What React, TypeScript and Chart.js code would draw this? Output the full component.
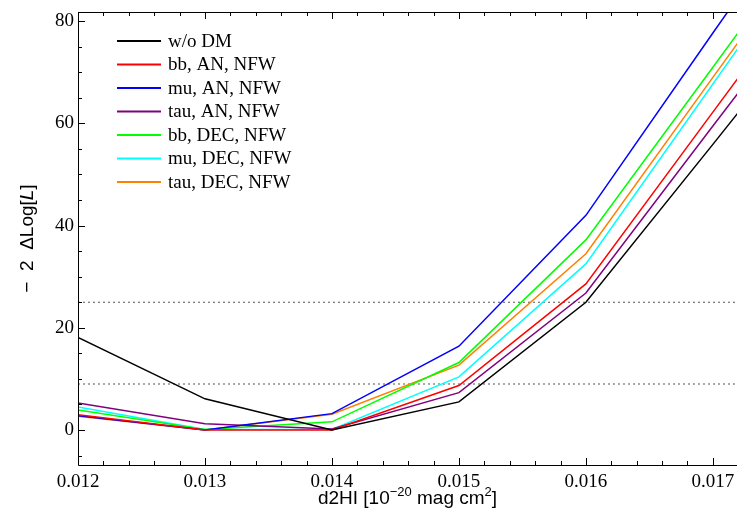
import React, { useEffect, useRef } from "react";
import { Chart, registerables } from "chart.js";

Chart.register(...registerables);

const xValues = [0.012, 0.013, 0.014, 0.015, 0.016, 0.017, 0.018];
const woDM = [18.1, 6.1, 0, 5.5, 25.0, 55.9, 87];
const bbAN = [3.0, 0, 0, 8.7, 28.6, 62.2, 95.8];
const muAN = [2.8, 0, 3.2, 16.4, 42.0, 77.7, 113];
const tauAN = [5.3, 1.2, 0.2, 7.3, 26.8, 59.5, 92];
const bbDEC = [3.9, 0.1, 1.6, 13.2, 37.2, 71, 105];
const muDEC = [4.5, 0.1, 0.1, 10.4, 32.5, 67.7, 103];
const tauDEC = [2.7, 0, 3.1, 12.7, 34.5, 69, 103.5];
const thresholds = [9, 25];

const seriesLabels = [
  "w/o DM",
  "bb, AN, NFW",
  "mu, AN, NFW",
  "tau, AN, NFW",
  "bb, DEC, NFW",
  "mu, DEC, NFW",
  "tau, DEC, NFW",
];
const seriesColors = ["#000000", "#ff0000", "#0000ff", "#800080", "#00ff00", "#00ffff", "#ff8000"];
const seriesValues = [woDM, bbAN, muAN, tauAN, bbDEC, muDEC, tauDEC];

// axis titles as styled runs: [text, style] where style: n = normal, s = superscript, i = italic
const xTitleRuns: [string, string][] = [
  ["d2HI [10", "n"],
  ["−20", "s"],
  [" mag cm", "n"],
  ["2", "s"],
  ["]", "n"],
];
const yTitleRuns: [string, string][] = [
  ["−  2  ΔLog[", "n"],
  ["L", "i"],
  ["]", "n"],
];

const X_MIN = 0.012;
const X_MAX = 0.01719;
const Y_MIN = -6.85;
const Y_MAX = 81.8;

const SANS = '"Liberation Sans", Arial, sans-serif';
const SERIF = '"Liberation Serif", "Times New Roman", serif';

const isMajorX = (v: number) => Math.abs(v * 1000 - Math.round(v * 1000)) < 1e-6;
const isMajorY = (v: number) => Math.abs(v / 20 - Math.round(v / 20)) < 1e-6;

function runFont(style: string) {
  if (style === "s") return `13px ${SANS}`;
  if (style === "i") return `italic 19px ${SANS}`;
  return `19px ${SANS}`;
}

function drawRuns(ctx: CanvasRenderingContext2D, runs: [string, string][], cx: number, cy: number) {
  let total = 0;
  for (const [t, s] of runs) {
    ctx.font = runFont(s);
    total += ctx.measureText(t).width;
  }
  let x = cx - total / 2;
  ctx.textBaseline = "alphabetic";
  ctx.textAlign = "left";
  for (const [t, s] of runs) {
    ctx.font = runFont(s);
    ctx.fillText(t, x, s === "s" ? cy - 8 : cy);
    x += ctx.measureText(t).width;
  }
}

const framePlugin = {
  id: "frameTicks",
  afterDatasetsDraw(chart: any) {
    const { ctx, chartArea } = chart;
    const xs = chart.scales.x;
    const ys = chart.scales.y;
    ctx.save();
    ctx.strokeStyle = "#000";
    ctx.lineWidth = 1;
    ctx.beginPath();
    ctx.moveTo(chartArea.left + 0.5, chartArea.top + 0.5);
    ctx.lineTo(chartArea.left + 0.5, chartArea.bottom + 0.5);
    ctx.lineTo(chartArea.right, chartArea.bottom + 0.5);
    ctx.moveTo(chartArea.left + 0.5, chartArea.top + 0.5);
    ctx.lineTo(chartArea.right, chartArea.top + 0.5);
    ctx.stroke();
    ctx.beginPath();
    for (const t of xs.ticks) {
      const px = Math.round(xs.getPixelForValue(t.value)) + 0.5;
      const len = isMajorX(t.value) ? 7 : 4;
      ctx.moveTo(px, chartArea.bottom);
      ctx.lineTo(px, chartArea.bottom - len);
      ctx.moveTo(px, chartArea.top);
      ctx.lineTo(px, chartArea.top + len);
    }
    for (const t of ys.ticks) {
      const py = Math.round(ys.getPixelForValue(t.value)) + 0.5;
      const len = isMajorY(t.value) ? 7 : 4;
      ctx.moveTo(chartArea.left, py);
      ctx.lineTo(chartArea.left + len, py);
    }
    ctx.stroke();

    // axis titles
    ctx.fillStyle = "#000";
    drawRuns(ctx, xTitleRuns, (chartArea.left + chartArea.right) / 2, chart.height - 7);
    ctx.save();
    ctx.translate(33, (chartArea.top + chartArea.bottom) / 2);
    ctx.rotate(-Math.PI / 2);
    drawRuns(ctx, yTitleRuns, 0, 0);
    ctx.restore();

    // legend
    const x0 = chartArea.left + 39;
    const y0 = chartArea.top + 29;
    const rowH = 23.5;
    ctx.font = `19px ${SERIF}`;
    ctx.textBaseline = "middle";
    ctx.textAlign = "left";
    chart.data.datasets.forEach((ds: any, i: number) => {
      if (!ds.showInLegend) return;
      const y = y0 + i * rowH;
      ctx.strokeStyle = ds.borderColor;
      ctx.lineWidth = 2;
      ctx.beginPath();
      ctx.moveTo(x0, y);
      ctx.lineTo(x0 + 44, y);
      ctx.stroke();
      ctx.fillStyle = "#000";
      ctx.fillText(ds.label, x0 + 51, y + 1);
    });
    ctx.restore();
  },
};

export default function App() {
  const canvasRef = useRef<HTMLCanvasElement | null>(null);

  useEffect(() => {
    const canvas = canvasRef.current;
    if (!canvas) return;
    const datasets: any[] = seriesValues.map((vals, i) => ({
      label: seriesLabels[i],
      data: xValues.map((x, j) => ({ x, y: vals[j] })),
      borderColor: seriesColors[i],
      backgroundColor: seriesColors[i],
      borderWidth: 1.5,
      pointRadius: 0,
      tension: 0,
      showInLegend: true,
    }));
    thresholds.forEach((t) => {
      datasets.push({
        label: "threshold " + t,
        data: [
          { x: X_MIN, y: t },
          { x: X_MAX, y: t },
        ],
        borderColor: "#555555",
        borderWidth: 1.2,
        borderDash: [2, 3],
        pointRadius: 0,
        showInLegend: false,
      });
    });

    const chart = new Chart(canvas, {
      type: "line",
      data: { datasets },
      plugins: [framePlugin],
      options: {
        animation: false,
        responsive: false,
        clip: 0 as any,
        layout: { padding: { top: 12, right: 0, left: 14, bottom: 0 } },
        plugins: {
          legend: { display: false },
          tooltip: { enabled: false },
        },
        scales: {
          x: {
            type: "linear",
            min: X_MIN,
            max: X_MAX,
            grid: { display: false, drawTicks: false },
            border: { display: false },
            ticks: {
              stepSize: 0.0002,
              includeBounds: false,
              autoSkip: false,
              maxRotation: 0,
              padding: 6,
              color: "#000",
              font: { family: SERIF, size: 19 },
              callback: (v: any) => (isMajorX(Number(v)) ? Number(v).toFixed(3) : ""),
            },
            afterFit: (s: any) => {
              s.height = 46;
              s.paddingLeft = 0;
              s.paddingRight = 0;
            },
          } as any,
          y: {
            type: "linear",
            min: Y_MIN,
            max: Y_MAX,
            grid: { display: false, drawTicks: false },
            border: { display: false },
            ticks: {
              stepSize: 5,
              includeBounds: false,
              autoSkip: false,
              padding: 4,
              color: "#000",
              font: { family: SERIF, size: 19 },
              callback: (v: any) => (isMajorY(Number(v)) ? String(Math.round(Number(v))) : ""),
            },
            afterFit: (s: any) => {
              s.width = 64;
              s.paddingTop = 0;
              s.paddingBottom = 0;
            },
          } as any,
        },
      },
    });
    return () => chart.destroy();
  }, []);

  return (
    <div style={{ position: "absolute", left: 0, top: 0, width: 737, height: 511, background: "#fff" }}>
      <canvas ref={canvasRef} width={737} height={511} style={{ width: 737, height: 511 }} />
    </div>
  );
}
